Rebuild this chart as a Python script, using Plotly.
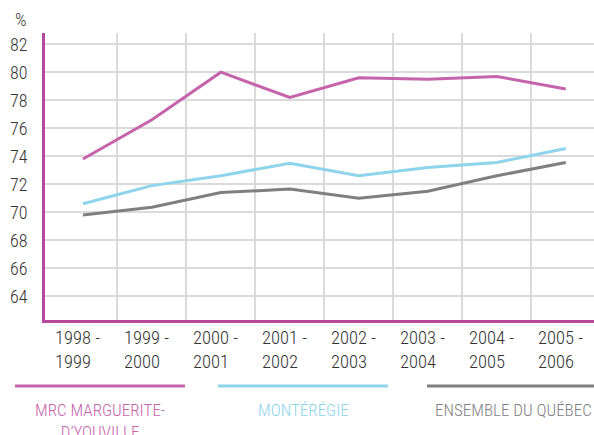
import plotly.graph_objects as go

periods = ["1998 -<br>1999", "1999 -<br>2000", "2000 -<br>2001", "2001 -<br>2002",
           "2002 -<br>2003", "2003 -<br>2004", "2004 -<br>2005", "2005 -<br>2006"]
mrc = [73.8, 76.6, 80.0, 78.2, 79.6, 79.5, 79.7, 78.8]
monteregie = [70.6, 71.9, 72.6, 73.5, 72.6, 73.2, 73.55, 74.55]
quebec = [69.8, 70.35, 71.4, 71.65, 71.0, 71.5, 72.6, 73.55]
y_ticks = [64, 66, 68, 70, 72, 74, 76, 78, 80, 82]
series_names = ["MRC MARGUERITE-<br>D’YOUVILLE", "MONTÉRÉGIE", "ENSEMBLE DU QUÉBEC"]
colors = ["#C564AA", "#8DD4EC", "#7F7F7F"]

FONT = "Roboto Condensed, Roboto, sans-serif"
FW = 300
x = list(range(len(periods)))

fig = go.Figure()
for vals, col in zip([mrc, monteregie, quebec], colors):
    fig.add_trace(go.Scatter(x=x, y=vals, mode="lines",
                             line=dict(color=col, width=3), showlegend=False,
                             hoverinfo="skip"))

# x tick labels: left-aligned two-line labels
for i, lab in enumerate(periods):
    fig.add_annotation(x=i, xref="x", y=0, yref="paper", text=lab,
                       showarrow=False, xanchor="left", yanchor="top",
                       align="left", xshift=-30, yshift=-5,
                       font=dict(family=FONT, size=18.5, color="#333333", weight=FW))

# custom legend
leg_x = [(15, 185), (218, 388), (427, 600)]
W = 594
for (x0, x1), name, col in zip(leg_x, series_names, colors):
    fig.add_shape(type="line", xref="paper", yref="paper",
                  x0=(x0 - 45) / (W - 45), x1=(x1 - 45) / (W - 45),
                  y0=(320 - 386) / 287, y1=(320 - 386) / 287,
                  line=dict(color=col, width=3))
    cx = (x0 + x1) / 2 if x1 < 590 else 513
    fig.add_annotation(x=(cx - 45) / (W - 45), xref="paper",
                       y=(320 - 398) / 287, yref="paper", text=name,
                       showarrow=False, xanchor="center", yanchor="top",
                       align="center",
                       font=dict(family=FONT, size=17, color=col, weight=FW))

fig.add_annotation(x=0, xref="paper", y=1.0, yref="paper", text="%",
                   showarrow=False, xanchor="right", yanchor="bottom",
                   xshift=-16, yshift=1,
                   font=dict(family=FONT, size=18, color="#333333", weight=FW))

fig.update_layout(
    width=594, height=435,
    margin=dict(l=45, r=0, t=33, b=115),
    paper_bgcolor="white", plot_bgcolor="white",
    font=dict(family=FONT, size=17, color="#333333", weight=FW),
    xaxis=dict(range=[-0.55, 7.41], tickvals=x, showticklabels=False,
               showgrid=False, zeroline=False,
               showline=True, linecolor="#B5479C", linewidth=3,
               minor=dict(tickvals=[i + 0.5 for i in x], showgrid=True,
                          gridcolor="#DADADA", gridwidth=1.5, ticklen=0)),
    yaxis=dict(range=[62.3, 82.8], tickvals=y_ticks, showgrid=True,
               gridcolor="#DADADA", gridwidth=1.5, zeroline=False,
               showline=True, linecolor="#B5479C", linewidth=3,
               ticks="", ticklabelstandoff=11,
               tickfont=dict(family=FONT, size=18, color="#333333", weight=FW)),
)

fig.write_html("out.html", config={"displayModeBar": False},
               post_script="document.body.style.margin='0';document.body.style.overflow='hidden';")
